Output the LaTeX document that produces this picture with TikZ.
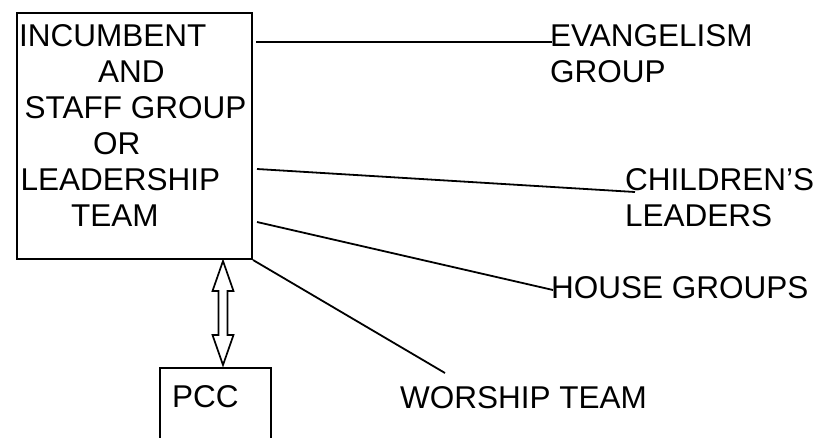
\documentclass[tikz,border=0pt]{standalone}
\usepackage{fontspec}
\setmainfont{Liberation Sans}
\begin{document}
\begin{tikzpicture}[x=1pt,y=-1pt,
  lbl/.style={font=\fontsize{31.5}{36}\selectfont, inner sep=0pt, anchor=base west, align=left},
  boxframe/.style={draw, line width=2pt, inner sep=0pt, anchor=north west},
  link/.style={line width=1.8pt},
  dblarrow/.style={draw, line width=1.7pt, fill=white, line join=miter}]
\useasboundingbox (0,0) rectangle (819,437);
% main box
\node[boxframe, minimum width=235pt, minimum height=246pt] (main) at (16,12) {};
\node[lbl] (maintext) at (19,226) {INCUMBENT\\\hspace*{79pt}AND\\\hspace*{5.5pt}STAFF GROUP\\\hspace*{74pt}OR\\\hspace*{1.5pt}LEADERSHIP\\\hspace*{52pt}TEAM};
% PCC box
\node[boxframe, minimum width=111pt, minimum height=110pt] (pcc) at (159,367) {};
\node[lbl] (pcctext) at (172,407) {PCC};
% right labels
\node[lbl] (evan) at (550,82) {EVANGELISM\\GROUP};
\node[lbl] (child) at (625,226) {CHILDREN’S\\LEADERS};
\node[lbl] (house) at (551,298) {HOUSE GROUPS};
\node[lbl] (worship) at (400,408) {WORSHIP TEAM};
% connector end points
\coordinate (s1) at (256,42);  \coordinate (e1) at (552,42);
\coordinate (s2) at (257,169); \coordinate (e2) at (635,192);
\coordinate (s3) at (257,222); \coordinate (e3) at (553,290);
\coordinate (s4) at (main.south east); \coordinate (e4) at (445,373);
\draw[link] (s1) -- (e1);
\draw[link] (s2) -- (e2);
\draw[link] (s3) -- (e3);
\draw[link] (s4) -- (e4);
% hollow double arrow between main and pcc
\coordinate (atop) at (223,261);
\coordinate (abot) at (223,365);
\draw[dblarrow] (atop) -- ++(10.5,30) -- ++(-6,0) -- (227.5,335) -- ++(6,0) -- (abot)
  -- ++(-10.5,-30) -- ++(6,0) -- (218.5,291) -- ++(-6,0) -- cycle;
\end{tikzpicture}
\end{document}
